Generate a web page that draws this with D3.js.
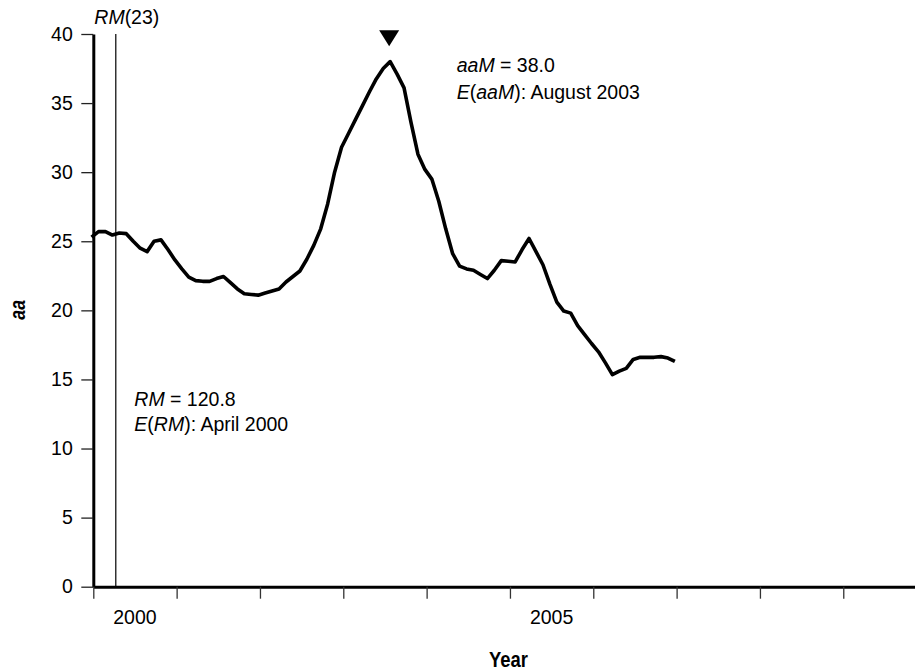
<!DOCTYPE html>
<html>
<head>
<meta charset="utf-8">
<script src="https://cdn.jsdelivr.net/npm/d3@7"></script>
<style>
  html, body { margin: 0; padding: 0; background: #fff; }
  svg { display: block; }
  text { font-family: "Liberation Sans", Arial, Helvetica, sans-serif; fill: #000; }
</style>
</head>
<body>
<svg id="chart" width="915" height="671"></svg>
<script>
// ---------------- DATA ----------------
// Monthly aa index values, starting January 2000
const aaValues = [
  25.3, 25.7, 25.7, 25.45, 25.6, 25.55, 25.0, 24.5, 24.25, 25.0,
  25.1, 24.4, 23.65, 23.0, 22.4, 22.15, 22.1, 22.1, 22.3, 22.45,
  22.0, 21.55, 21.2, 21.15, 21.1, 21.25, 21.4, 21.55, 22.05, 22.45,
  22.85, 23.7, 24.7, 25.9, 27.7, 30.0, 31.8, 32.8, 33.8, 34.8,
  35.8, 36.75, 37.5, 38.0, 37.1, 36.1, 33.6, 31.3, 30.2, 29.5,
  27.9, 25.9, 24.1, 23.2, 23.0, 22.9, 22.6, 22.3, 22.9, 23.6,
  23.55, 23.5, 24.4, 25.2, 24.25, 23.3, 21.9, 20.6, 19.95, 19.8,
  18.9, 18.25, 17.6, 17.0, 16.2, 15.35, 15.6, 15.8, 16.45, 16.6,
  16.6, 16.6, 16.65, 16.55, 16.3
];
const startYear = 2000;
const yDomain = [0, 40];
const xDomain = [2000, 2010];
const yTicks = [0, 5, 10, 15, 20, 25, 30, 35, 40];
const xTickYears = [2000, 2001, 2002, 2003, 2004, 2005, 2006, 2007, 2008, 2009];
const xLabelYears = [2000, 2005];
const peakIndex = 43;           // August 2003
const rmDate = 2000.27;         // April 2000
const xTitle = "Year";
const yTitle = "aa";

// ---------------- LAYOUT ----------------
const svg = d3.select("#chart");
const plotLeft = 93.3, plotTop = 34, plotBottom = 586.7;
const yearWidth = 83.33;

const x = d3.scaleLinear().domain(xDomain).range([plotLeft, plotLeft + yearWidth * 10]);
const y = d3.scaleLinear().domain(yDomain).range([plotBottom, plotTop]);

const data = aaValues.map((v, i) => ({ date: startYear + (i - 0.25) / 12, value: v }));

// Y axis
const yAxis = d3.axisLeft(y).tickValues(yTicks).tickSize(12).tickSizeOuter(0).tickPadding(8.5);
const gy = svg.append("g").attr("transform", `translate(${plotLeft},0)`).call(yAxis);
gy.select(".domain").attr("stroke", "#000").attr("stroke-width", 3);
gy.selectAll(".tick line").attr("stroke", "#222").attr("stroke-width", 1.3);
gy.selectAll(".tick text")
  .attr("font-size", "19.5px")
  .attr("font-family", "Liberation Sans, Arial, sans-serif")
  .attr("fill", "#000");

// X axis
const xAxis = d3.axisBottom(x).tickValues(xTickYears).tickSize(12).tickSizeOuter(0).tickFormat(() => "");
const gx = svg.append("g").attr("transform", `translate(0,${plotBottom})`).call(xAxis);
gx.select(".domain").attr("stroke", "#000").attr("stroke-width", 3);
gx.selectAll(".tick line").attr("stroke", "#333").attr("stroke-width", 1.3);

// X labels centred in the year
svg.append("g").selectAll("text").data(xLabelYears).join("text")
  .attr("x", d => x(d + 0.5))
  .attr("y", plotBottom + 37.5)
  .attr("text-anchor", "middle")
  .attr("font-size", "19.5px")
  .text(d => d);

// Axis titles (condensed bold face)
function probeNarrow() {
  const a = svg.append("text").attr("font-size", "40px").attr("font-weight", "bold")
    .style("font-family", "'Liberation Sans Narrow'").text("Year aa Year");
  const b = svg.append("text").attr("font-size", "40px").attr("font-weight", "bold")
    .style("font-family", "'Liberation Sans'").text("Year aa Year");
  const wa = a.node().getComputedTextLength(), wb = b.node().getComputedTextLength();
  a.remove(); b.remove();
  return wa < wb * 0.92;
}
const hasNarrow = probeNarrow();
function titleText(tx, ty, rot, txt, size, italic) {
  const g = svg.append("g").attr("transform", `translate(${tx},${ty}) rotate(${rot})`);
  const t = g.append("text")
    .attr("text-anchor", "middle")
    .attr("font-size", size + "px")
    .attr("font-weight", "bold")
    .attr("font-style", italic ? "italic" : "normal")
    .text(txt);
  if (hasNarrow) t.style("font-family", "'Liberation Sans Narrow', 'Liberation Sans', Arial, sans-serif");
  else t.attr("transform", "scale(0.82,1)");
  return t;
}
titleText(x(2005) - 1.5, 667, 0, xTitle, 22.5, false);
titleText(25, y(20) - 0.5, -90, yTitle, 21.5, true);

// RM vertical line
svg.append("line")
  .attr("x1", x(rmDate)).attr("x2", x(rmDate))
  .attr("y1", y(yDomain[0])).attr("y2", y(yDomain[1]))
  .attr("stroke", "#000").attr("stroke-width", 1.2);

// Data line
const line = d3.line().x(d => x(d.date)).y(d => y(d.value));
svg.append("path")
  .datum(data)
  .attr("d", line)
  .attr("fill", "none")
  .attr("stroke", "#000")
  .attr("stroke-width", 3.6)
  .attr("stroke-linejoin", "round");

// Peak marker (downward triangle)
const pk = data[peakIndex];
const px = x(pk.date) - 1, pyTip = y(pk.value) - 15.5;
svg.append("path")
  .attr("d", `M${px - 10},${pyTip - 16} L${px + 10},${pyTip - 16} L${px},${pyTip} Z`)
  .attr("fill", "#000");

// Annotations
function richText(xp, yp, parts) {
  const t = svg.append("text").attr("x", xp).attr("y", yp).attr("font-size", "19.5px");
  parts.forEach(([s, it]) => t.append("tspan").attr("font-style", it ? "italic" : "normal").text(s));
  return t;
}
richText(94.3, 24, [["RM", true], ["(23)", false]]);
richText(456.7, 72.3, [["aaM", true], [" = 38.0", false]]);
richText(456.7, 99, [["E", true], ["(", false], ["aaM", true], ["): August 2003", false]]);
richText(134.3, 406, [["RM", true], [" = 120.8", false]]);
richText(134.3, 430.7, [["E", true], ["(", false], ["RM", true], ["): April 2000", false]]);
</script>
</body>
</html>
